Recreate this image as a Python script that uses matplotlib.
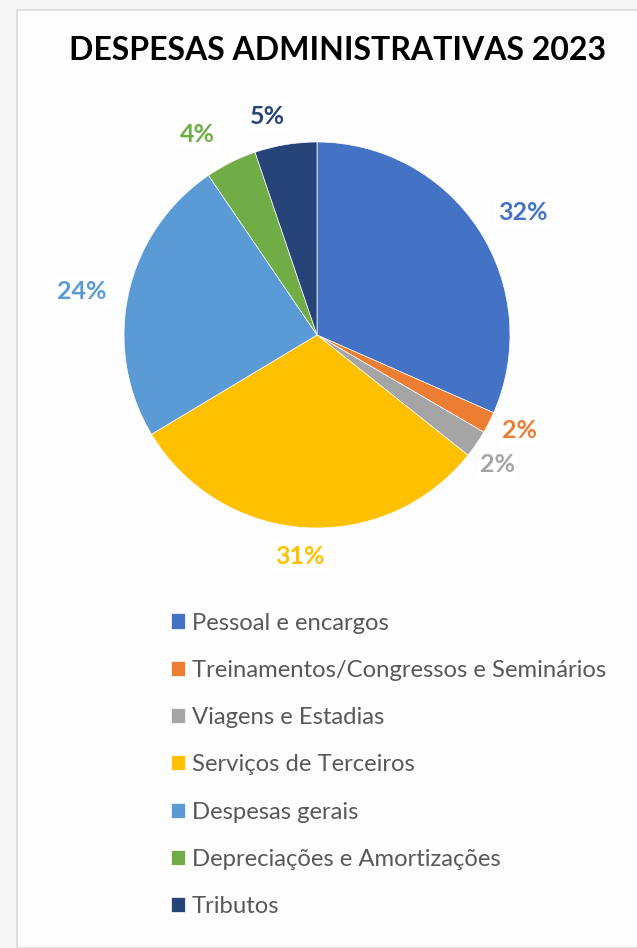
import numpy as np
import matplotlib.pyplot as plt
from matplotlib.patches import Rectangle

# Dados (percentuais estimados da imagem)
categorias = ['Pessoal e encargos', 'Treinamentos/Congressos e Seminários',
              'Viagens e Estadias', 'Serviços de Terceiros', 'Despesas gerais',
              'Depreciações e Amortizações', 'Tributos']
valores = [31.6, 1.8, 2.3, 30.7, 24.1, 4.3, 5.2]
cores = ['#4472C4', '#ED7D31', '#A5A5A5', '#FFC000', '#5B9BD5', '#70AD47', '#264478']

# ajuste fino da posição dos rótulos (distância relativa ao raio, desvio angular em graus)
dist_rot = [1.24, 1.16, 1.15, 1.15, 1.24, 1.21, 1.16]
desvio_rot = [-2.3, 1.8, -1.4, -0.6, 2.0, 4.3, 3.5]

W, H = 637, 948
fig = plt.figure(figsize=(W / 100, H / 100), dpi=100)
fig.patch.set_facecolor('#F7F7F7')

# moldura do gráfico
fig.patches.append(Rectangle((17 / W, 0.0), 1.0, 1 - 10 / H, transform=fig.transFigure,
                             facecolor='#FDFDFD', edgecolor='#D9D9D9', lw=1.2, zorder=-5))

fig.text(338 / W, 1 - 51 / H, 'DESPESAS ADMINISTRATIVAS 2023', ha='center', va='center',
         fontsize=23, fontweight='bold', family='Lato', color='black')

cx, cy, r = 317, 335, 193
ax = fig.add_axes([(cx - r) / W, (H - cy - r) / H, 2 * r / W, 2 * r / H], zorder=2)
wedges, textos, pcts = ax.pie(valores, colors=cores, startangle=90, counterclock=False,
                              radius=1, autopct='%1.0f%%', pctdistance=1.2,
                              wedgeprops=dict(edgecolor='white', linewidth=0.5))
for w, t, c, d, da in zip(wedges, pcts, cores, dist_rot, desvio_rot):
    ang = np.deg2rad((w.theta1 + w.theta2) / 2 + da)
    t.set_position((d * np.cos(ang), d * np.sin(ang)))
    t.set_color(c)
    t.set_fontsize(18)
    t.set_fontweight('bold')
    t.set_family('Lato')
    t.set_bbox(dict(facecolor='white', edgecolor='none', pad=2))
ax.set_xlim(-1, 1)
ax.set_ylim(-1, 1)
ax.set_aspect('equal')
ax.axis('off')

leg = fig.legend(wedges, categorias, loc='upper left', bbox_to_anchor=(149 / W, 1 - 591 / H),
                 frameon=False, handlelength=0.6, handleheight=0.6, handletextpad=0.3,
                 labelspacing=1.1, prop=dict(family='Lato', size=17.2))
for t in leg.get_texts():
    t.set_color('#595959')

fig.savefig('out.png', dpi=100, facecolor=fig.get_facecolor())
